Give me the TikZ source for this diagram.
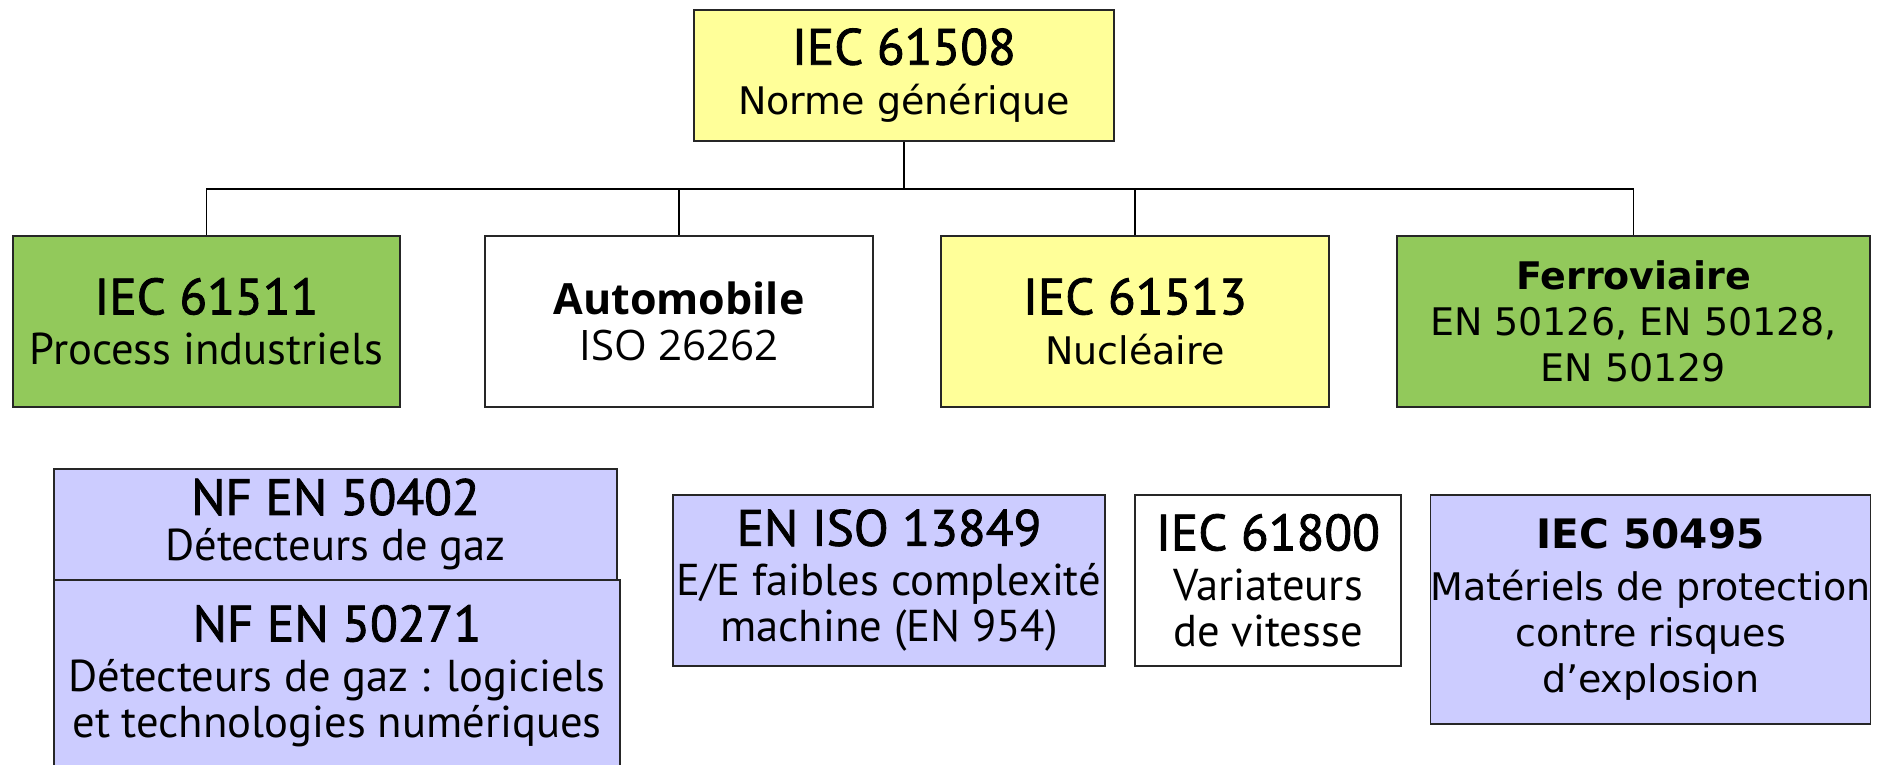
\documentclass[tikz,border=0pt]{standalone}
\usepackage{fontspec}
\setmainfont{PT Sans}
\newfontfamily\hdfont[FakeBold=1.6]{PT Sans}
\newfontfamily\lucida{DejaVu Sans}
\newfontfamily\segoe{Open Sans}
\newcommand{\hdsize}{\hdfont\fontsize{25.5}{27}\selectfont}
\newcommand{\txsize}{\fontsize{22.3}{23}\selectfont}
\newcommand{\lgsize}{\lucida\fontsize{19}{23}\selectfont}
\definecolor{normyellow}{HTML}{FFFF99}
\definecolor{normgreen}{HTML}{92C95B}
\definecolor{normlilac}{HTML}{CCCCFF}

\begin{document}
\begin{tikzpicture}[x=0.5pt,y=-0.5pt,
    normbox/.style={draw=black!85, line width=0.7pt, rectangle, align=center, inner sep=0pt, font=\txsize},
    link/.style={draw=black, line width=0.8pt}]
  \clip (0,0) rectangle (1889,765);
  \fill[white] (0,0) rectangle (1889,765);

  \node[normbox, fill=normyellow, minimum width=210pt, minimum height=65.5pt] (generique) at (904,75.5)
    {{\hdsize IEC 61508}\\[2pt]{\lgsize Norme générique}};

  \node[normbox, fill=normgreen, minimum width=193.5pt, minimum height=85.5pt] (process) at (206.5,321.5)
    {{\hdsize IEC 61511}\\[2pt]Process industriels};
  \node[normbox, fill=white, minimum width=194pt, minimum height=85.5pt] (auto) at (679,321.5)
    {{\segoe\bfseries\fontsize{21.5}{25}\selectfont Automobile}\\{\segoe\fontsize{21}{23}\selectfont ISO 26262}};
  \node[normbox, fill=normyellow, minimum width=194pt, minimum height=85.5pt] (nucleaire) at (1135,321.5)
    {{\hdsize IEC 61513}\\[2pt]{\lgsize Nucléaire}};
  \node[normbox, fill=normgreen, minimum width=236.5pt, minimum height=85.5pt] (ferro) at (1633.5,321.5)
    {{\lucida\bfseries\fontsize{19}{23}\selectfont Ferroviaire}\\{\lgsize EN 50126, EN 50128,}\\{\lgsize EN 50129}};

  \coordinate (bus) at (904,189);
  \draw[link] (generique.south) -- (bus);
  \draw[link] (process.north) |- (bus) -| (ferro.north);
  \draw[link] (auto.north) -- (auto.north |- bus);
  \draw[link] (nucleaire.north) -- (nucleaire.north |- bus);

  \node[normbox, fill=normlilac, minimum width=281.5pt, minimum height=55.5pt] (gaz) at (335.5,524.5)
    {{\hdsize NF EN 50402}\\Détecteurs de gaz};
  \node[normbox, fill=normlilac, minimum width=283pt, minimum height=96pt] (gazlog) at (337,676)
    {{\hdsize NF EN 50271}\\[2pt]Détecteurs de gaz : logiciels\\et technologies numériques};
  \node[normbox, fill=normlilac, minimum width=216pt, minimum height=85.5pt] (machine) at (889,580.5)
    {{\hdsize EN ISO 13849}\\[2pt]E/E faibles complexité\\machine (EN 954)};
  \node[normbox, fill=white, minimum width=133pt, minimum height=85.5pt] (vitesse) at (1268,580.5)
    {{\hdsize IEC 61800}\\[2pt]Variateurs\\de vitesse};
  \node[normbox, fill=normlilac, minimum width=219.5pt, minimum height=114.5pt] (atex) at (1650.5,609.5)
    {{\lucida\bfseries\fontsize{20.3}{23}\selectfont IEC 50495}\\[3pt]{\lgsize Matériels de protection}\\{\lgsize contre risques}\\{\lgsize d’explosion}};
\end{tikzpicture}
\end{document}
